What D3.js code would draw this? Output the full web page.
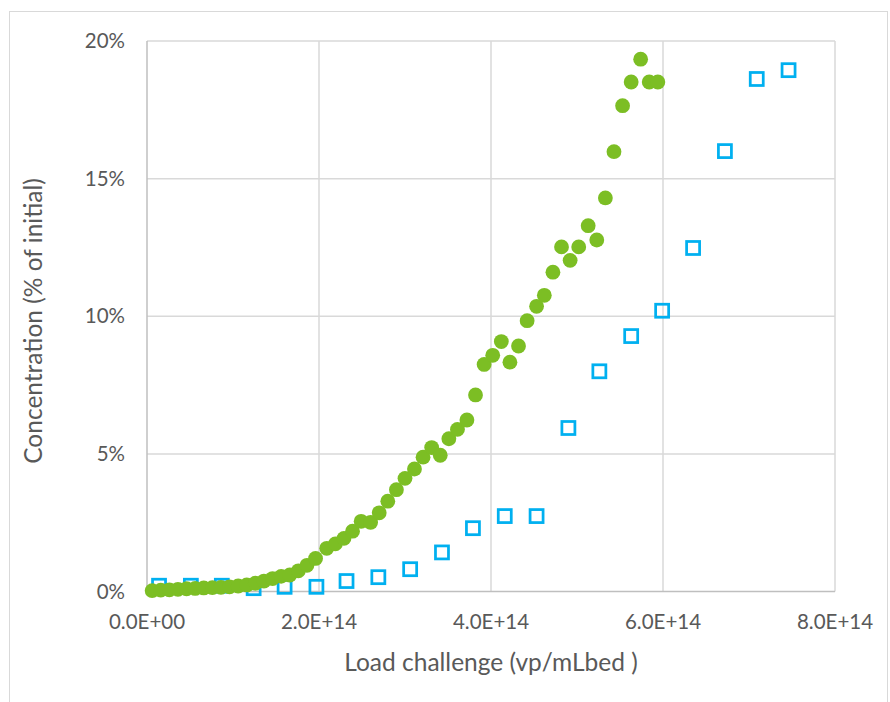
<!DOCTYPE html>
<html>
<head>
<meta charset="utf-8">
<script src="https://cdn.jsdelivr.net/npm/d3@7"></script>
<style>
  body { margin: 0; background: #fff; }
  svg { display: block; font-family: Lato, "Open Sans", sans-serif; }
</style>
</head>
<body>
<svg width="890" height="702"></svg>
<script>
// load challenge in units of 1E14 vp/mLbed, concentration in % of initial
var greenX = [0.06, 0.16, 0.26, 0.36, 0.46, 0.56, 0.66, 0.76, 0.86, 0.96,
              1.06, 1.16, 1.26, 1.36, 1.46, 1.56, 1.66, 1.76, 1.86, 1.96,
              2.09, 2.19, 2.29, 2.39, 2.49, 2.6, 2.7, 2.8, 2.9, 3.0,
              3.11, 3.21, 3.31, 3.41, 3.51, 3.61, 3.72, 3.82, 3.92, 4.02,
              4.12, 4.22, 4.32, 4.42, 4.53, 4.62, 4.72, 4.82, 4.92, 5.02,
              5.13, 5.23, 5.33, 5.43, 5.53, 5.63, 5.74, 5.84, 5.94];
var greenY = [0.03, 0.05, 0.06, 0.08, 0.1, 0.11, 0.13, 0.14, 0.15, 0.17,
              0.2, 0.24, 0.3, 0.38, 0.47, 0.55, 0.6, 0.75, 0.95, 1.2,
              1.57, 1.73, 1.93, 2.19, 2.55, 2.51, 2.86, 3.28, 3.70, 4.11,
              4.45, 4.88, 5.23, 4.95, 5.55, 5.89, 6.23, 7.14, 8.25, 8.58,
              9.08, 8.33, 8.92, 9.84, 10.36, 10.76, 11.6, 12.52, 12.03, 12.52,
              13.29, 12.77, 14.3, 15.98, 17.65, 18.51, 19.34, 18.51, 18.51];

var blueX = [0.14, 0.51, 0.87, 1.24, 1.6, 1.97, 2.32, 2.69, 3.06, 3.43,
             3.79, 4.16, 4.53, 4.9, 5.26, 5.63, 5.99, 6.35, 6.72, 7.09, 7.46];
var blueY = [0.21, 0.21, 0.21, 0.12, 0.17, 0.17, 0.38, 0.52, 0.81, 1.42,
             2.3, 2.74, 2.74, 5.94, 8.0, 9.28, 10.2, 12.48, 16.0, 18.62, 18.94];

var xTicks = [0, 2, 4, 6, 8];
var xTickLabels = ["0.0E+00", "2.0E+14", "4.0E+14", "6.0E+14", "8.0E+14"];
var yTicks = [0, 5, 10, 15, 20];
var yTickLabels = ["0%", "5%", "10%", "15%", "20%"];

var svg = d3.select("svg");

//chart border
svg.append("rect")
    .attr("x", 9.5).attr("y", 11.5)
    .attr("width", 878).attr("height", 700)
    .attr("fill", "none").attr("stroke", "#d9d9d9");

var x = d3.scaleLinear().domain([0, 8]).range([147, 835]);
var y = d3.scaleLinear().domain([0, 20]).range([591.5, 41]);

//gridlines
svg.append("g").selectAll("line")
    .data(yTicks.slice(1))
    .enter().append("line")
    .attr("x1", x(0)).attr("x2", x(8))
    .attr("y1", d => y(d)).attr("y2", d => y(d))
    .attr("stroke", "#d9d9d9").attr("stroke-width", 1.5);

svg.append("g").selectAll("line")
    .data(xTicks.slice(1))
    .enter().append("line")
    .attr("x1", d => x(d)).attr("x2", d => x(d))
    .attr("y1", y(0)).attr("y2", y(20))
    .attr("stroke", "#d9d9d9").attr("stroke-width", 1.5);

// axis lines
svg.append("line")
    .attr("x1", x(0)).attr("x2", x(0)).attr("y1", y(0)).attr("y2", y(20))
    .attr("stroke", "#bfbfbf").attr("stroke-width", 1.5);
svg.append("line")
    .attr("x1", x(0)).attr("x2", x(8)).attr("y1", y(0)).attr("y2", y(0))
    .attr("stroke", "#bfbfbf").attr("stroke-width", 1.5);

// tick labels
svg.append("g").selectAll("text")
    .data(yTicks)
    .enter().append("text")
    .attr("x", 125)
    .attr("y", d => y(d))
    .attr("dy", "0.35em")
    .attr("text-anchor", "end")
    .attr("fill", "#595959")
    .style("font-size", "20.5px")
    .text((d, i) => yTickLabels[i]);

svg.append("g").selectAll("text")
    .data(xTicks)
    .enter().append("text")
    .attr("x", d => x(d))
    .attr("y", 629)
    .attr("text-anchor", "middle")
    .attr("fill", "#595959")
    .style("font-size", "20.5px")
    .text((d, i) => xTickLabels[i]);

// axis titles
svg.append("text")
    .attr("x", 491).attr("y", 671)
    .attr("text-anchor", "middle")
    .attr("fill", "#595959")
    .style("font-size", "24.5px")
    .text("Load challenge (vp/mLbed )");

svg.append("text")
    .attr("transform", "translate(33,321) rotate(-90)")
    .attr("dy", "0.35em")
    .attr("text-anchor", "middle")
    .attr("fill", "#595959")
    .style("font-size", "24.5px")
    .text("Concentration (% of initial)");

// blue squares
svg.append("g").selectAll("rect")
    .data(blueX.map((d, i) => ({x: d, y: blueY[i]})))
    .enter().append("rect")
    .attr("x", d => x(d.x) - 6.5)
    .attr("y", d => y(d.y) - 6.5)
    .attr("width", 13).attr("height", 13)
    .attr("fill", "none")
    .attr("stroke", "#00b0f0")
    .attr("stroke-width", 2.75);

// green dots
svg.append("g").selectAll("circle")
    .data(greenX.map((d, i) => ({x: d, y: greenY[i]})))
    .enter().append("circle")
    .attr("cx", d => x(d.x))
    .attr("cy", d => y(d.y))
    .attr("r", 7.4)
    .attr("fill", "#7cbe24");
</script>
</body>
</html>
